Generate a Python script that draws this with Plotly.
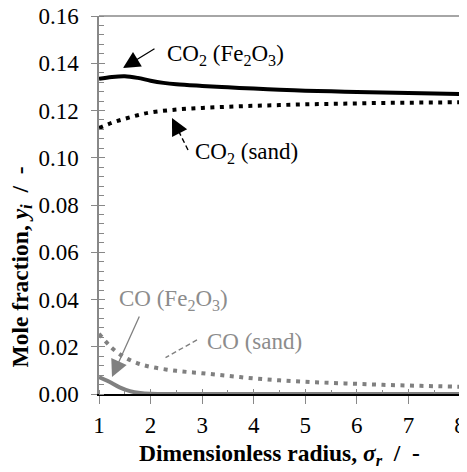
import plotly.graph_objects as go

# ---- data ----
x_co2_fe = [1.0, 1.25, 1.5, 1.75, 2.0, 2.25, 2.5, 3.0, 3.5, 4.0, 4.5, 5.0, 5.5, 6.0, 6.5, 7.0, 7.5, 8.0]
y_co2_fe = [0.1334, 0.1342, 0.1345, 0.1338, 0.1326, 0.1317, 0.1311, 0.1304, 0.1298, 0.1293, 0.1288, 0.1284, 0.1281, 0.1278, 0.1276, 0.1274, 0.1272, 0.1270]

x_co2_sand = [1.0, 1.25, 1.5, 1.75, 2.0, 2.5, 3.0, 3.5, 4.0, 4.5, 5.0, 5.5, 6.0, 6.5, 7.0, 7.5, 8.0]
y_co2_sand = [0.1126, 0.1148, 0.1165, 0.1180, 0.1192, 0.1204, 0.1211, 0.1216, 0.1220, 0.1223, 0.1226, 0.1228, 0.1230, 0.1232, 0.1233, 0.1234, 0.1235]

x_co_fe = [1.0, 1.2, 1.4, 1.6, 1.8, 2.0, 2.5, 3.0, 4.0, 5.0, 6.0, 7.0, 8.0]
y_co_fe = [0.0072, 0.0052, 0.0028, 0.0012, 0.0004, 0.0001, 0.0, 0.0, 0.0, 0.0, 0.0, 0.0, 0.0]

x_co_sand = [1.0, 1.25, 1.5, 1.75, 2.0, 2.5, 3.0, 3.5, 4.0, 4.5, 5.0, 5.5, 6.0, 6.5, 7.0, 7.5, 8.0]
y_co_sand = [0.0255, 0.0195, 0.0155, 0.0130, 0.0115, 0.0098, 0.0088, 0.0077, 0.0066, 0.0058, 0.0052, 0.0047, 0.0043, 0.0039, 0.0036, 0.0033, 0.0031]

x_ticks = [1, 2, 3, 4, 5, 6, 7, 8]
y_ticks = [0.00, 0.02, 0.04, 0.06, 0.08, 0.10, 0.12, 0.14, 0.16]

FONT = "Liberation Serif"
GREY_LINE = "#808080"
GREY_TEXT = "#8c8c8c"
AXIS_GREY = "#888888"
FS = 23
FS_TITLE = 23.5

fig = go.Figure()
fig.add_trace(go.Scatter(x=x_co_fe, y=y_co_fe, mode="lines", line=dict(color=GREY_LINE, width=4, shape="spline"), showlegend=False))
fig.add_trace(go.Scatter(x=x_co_sand, y=y_co_sand, mode="lines", line=dict(color=GREY_LINE, width=4, dash="4px,5.5px", shape="spline"), showlegend=False))
fig.add_trace(go.Scatter(x=x_co2_sand, y=y_co2_sand, mode="lines", line=dict(color="black", width=4, dash="4px,5.5px", shape="spline"), showlegend=False))
fig.add_trace(go.Scatter(x=x_co2_fe, y=y_co2_fe, mode="lines", line=dict(color="black", width=4, shape="spline"), showlegend=False))
# helper trace for the overlay axes (crossing major ticks)
fig.add_trace(go.Scatter(x=[], y=[], xaxis="x2", yaxis="y2", showlegend=False))

tickfont = dict(family=FONT, size=FS, color="black")

# the page body has an 8px margin, so the figure is sized/offset to compensate
fig.update_layout(
    width=459, height=464,
    margin=dict(l=91, r=7, t=8, b=78, autoexpand=False),
    paper_bgcolor="white", plot_bgcolor="white",
    font=dict(family=FONT),
    xaxis=dict(range=[1, 8], tickvals=x_ticks, ticktext=[str(v) for v in x_ticks],
               ticks="outside", ticklen=8, tickwidth=1, tickcolor=AXIS_GREY,
               showline=True, linecolor="black", linewidth=2, showgrid=False, zeroline=False,
               tickfont=tickfont, ticklabelstandoff=1, automargin=False, ticklabeloverflow="allow",
               minor=dict(dtick=0.5, ticks="inside", ticklen=4, tickcolor=AXIS_GREY, showgrid=False)),
    xaxis2=dict(range=[1, 8], overlaying="x", anchor="y", side="bottom", tickvals=x_ticks,
                ticks="inside", ticklen=5, tickcolor=AXIS_GREY, showticklabels=False,
                showline=False, showgrid=False, zeroline=False, automargin=False),
    yaxis=dict(range=[0, 0.16], tickvals=y_ticks, ticktext=["%.2f" % v for v in y_ticks],
               ticks="outside", ticklen=6, tickwidth=1, tickcolor=AXIS_GREY,
               showline=True, linecolor=AXIS_GREY, linewidth=1.5, mirror=True,
               showgrid=False, zeroline=False, tickfont=tickfont, ticklabelstandoff=8, automargin=False,
               ticklabeloverflow="allow",
               minor=dict(dtick=0.004, ticks="inside", ticklen=5, tickcolor=AXIS_GREY, showgrid=False)),
    yaxis2=dict(range=[0, 0.16], overlaying="y", anchor="x", side="left", tickvals=y_ticks,
                ticks="inside", ticklen=6, tickcolor=AXIS_GREY, showticklabels=False,
                showline=False, showgrid=False, zeroline=False, automargin=False),
)

# top border
fig.add_shape(type="line", xref="paper", yref="paper", x0=0, x1=1, y0=1, y1=1,
              line=dict(color=AXIS_GREY, width=1.5))

# axis titles
fig.add_annotation(xref="paper", yref="paper", x=0.5, y=0, yshift=-61, yanchor="middle", xanchor="center",
                   showarrow=False,
                   text="<b>Dimensionless radius, <i>σ<sub>r</sub></i>\u00a0 /\u00a0 -</b>",
                   font=dict(family=FONT, size=FS_TITLE, color="black"))
fig.add_annotation(xref="paper", yref="paper", x=0, xshift=-77, y=0.43, yshift=-36,
                   xanchor="center", yanchor="middle", showarrow=False, textangle=-90,
                   text="<b>Mole fraction, <i>y<sub>i</sub></i>\u00a0 /\u00a0 -</b>",
                   font=dict(family=FONT, size=FS_TITLE, color="black"))

# labels
lab = dict(family=FONT, size=FS)
fig.add_annotation(x=2.28, y=0.1435, xanchor="left", showarrow=False,
                   text="CO<sub>2</sub> (Fe<sub>2</sub>O<sub>3</sub>)", font=dict(color="black", **lab))
fig.add_annotation(x=2.82, y=0.1020, xanchor="left", showarrow=False,
                   text="CO<sub>2</sub> (sand)", font=dict(color="black", **lab))
fig.add_annotation(x=1.35, y=0.0398, xanchor="left", showarrow=False,
                   text="CO (Fe<sub>2</sub>O<sub>3</sub>)", font=dict(color=GREY_TEXT, **lab))
fig.add_annotation(x=3.05, y=0.0222, xanchor="left", showarrow=False,
                   text="CO (sand)", font=dict(color=GREY_TEXT, **lab))

# solid arrows
fig.add_annotation(x=1.465, y=0.1380, ax=2.105, ay=0.1465, axref="x", ayref="y", text="",
                   showarrow=True, arrowhead=2, arrowsize=2.6, arrowwidth=1.3, arrowcolor="black")
fig.add_annotation(x=1.252, y=0.0072, ax=1.795, ay=0.0334, axref="x", ayref="y", text="",
                   showarrow=True, arrowhead=2, arrowsize=2.6, arrowwidth=1.3, arrowcolor=GREY_LINE)

# dashed arrows: dashed shaft + arrowhead
fig.add_shape(type="line", x0=2.726, y0=0.1033, x1=2.47, y1=0.1145,
              line=dict(color="black", width=1.4, dash="5px,3px"))
fig.add_annotation(x=2.415, y=0.1168, ax=2.48, ay=0.1140, axref="x", ayref="y", text="",
                   showarrow=True, arrowhead=2, arrowsize=2.6, arrowwidth=1.3, arrowcolor="black")
fig.add_shape(type="line", x0=2.90, y0=0.0229, x1=2.29, y1=0.0154,
              line=dict(color=GREY_LINE, width=1.4, dash="5px,3px"))
fig.add_annotation(x=2.222, y=0.0144, ax=2.30, ay=0.0154, axref="x", ayref="y", text="",
                   showarrow=True, arrowhead=2, arrowsize=2.6, arrowwidth=1.3, arrowcolor=GREY_LINE)

fig.write_html("out.html")
